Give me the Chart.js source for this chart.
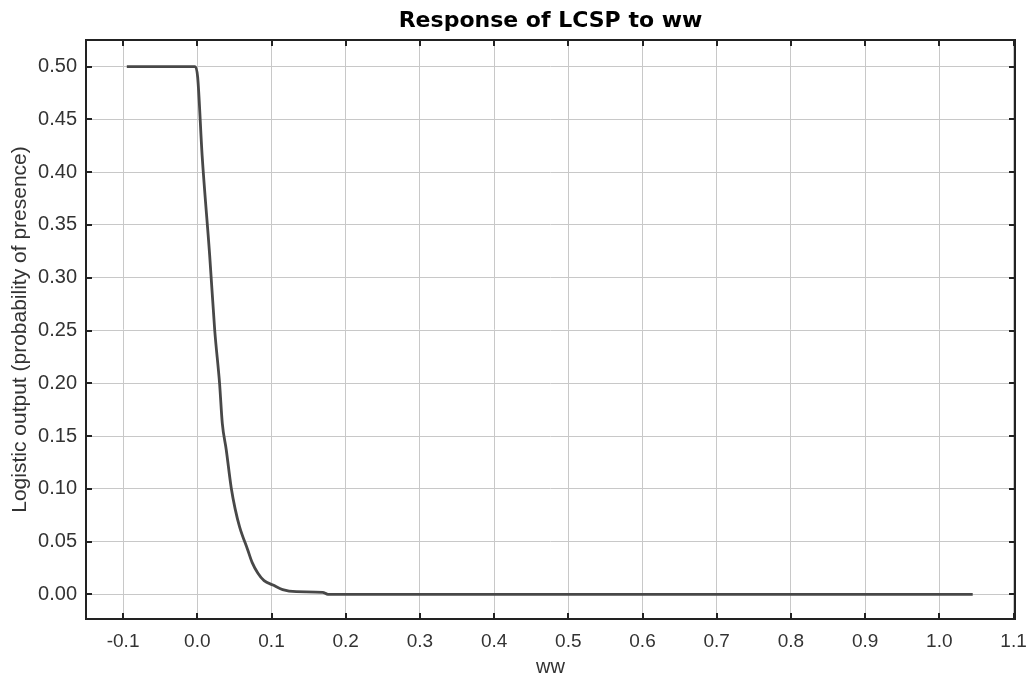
<!DOCTYPE html>
<html lang="en">
<head>
  <meta charset="UTF-8">
  <title>Response of LCSP to ww</title>
  <script src="https://cdn.jsdelivr.net/npm/chart.js"></script>
  <style>
    body { margin: 0; background: #fff; }
    #wrap { width: 1029px; height: 686px; }
  </style>
</head>
<body>
  <div id="wrap">
    <canvas id="respChart" width="1029" height="686"></canvas>
  </div>

  <script>
    // response curve
    const wwValues = [-0.095, -0.003, 0.0005, 0.0065, 0.0166, 0.0235, 0.030, 0.0337, 0.039, 0.0458, 0.051, 0.057, 0.068, 0.074, 0.0817, 0.09, 0.102, 0.115, 0.1335, 0.169, 0.176, 1.045];
    const outputValues = [0.5, 0.5, 0.49, 0.416, 0.322, 0.25, 0.20, 0.162, 0.137, 0.1005, 0.081, 0.064, 0.042, 0.030, 0.020, 0.013, 0.0088, 0.0045, 0.0025, 0.0019, 0.0, 0.0];

    const xTicks = [-0.1, 0.0, 0.1, 0.2, 0.3, 0.4, 0.5, 0.6, 0.7, 0.8, 0.9, 1.0, 1.1];
    const yTicks = [0.00, 0.05, 0.10, 0.15, 0.20, 0.25, 0.30, 0.35, 0.40, 0.45, 0.50];
    const chartTitle = "Response of LCSP to ww";

    const points = wwValues.map((x, i) => ({ x: x, y: outputValues[i] }));

    // box round the plot with inward tick marks on all four sides,
    // title centred over the plot area
    const framePlugin = {
      id: "frame",
      afterDatasetsDraw(chart) {
        const { ctx, chartArea: a, scales } = chart;
        ctx.save();
        ctx.strokeStyle = "#222";
        ctx.lineWidth = 2;
        ctx.strokeRect(a.left, a.top, a.right - a.left, a.bottom - a.top);
        ctx.beginPath();
        xTicks.forEach(v => {
          const px = Math.round(scales.x.getPixelForValue(v));
          ctx.moveTo(px, a.bottom); ctx.lineTo(px, a.bottom - 6);
          ctx.moveTo(px, a.top); ctx.lineTo(px, a.top + 6);
        });
        yTicks.forEach(v => {
          const py = Math.round(scales.y.getPixelForValue(v));
          ctx.moveTo(a.left, py); ctx.lineTo(a.left + 6, py);
          ctx.moveTo(a.right, py); ctx.lineTo(a.right - 6, py);
        });
        ctx.stroke();

        ctx.fillStyle = "#000";
        ctx.font = "bold 22px 'DejaVu Sans', sans-serif";
        ctx.textAlign = "center";
        ctx.textBaseline = "middle";
        ctx.fillText(chartTitle, (a.left + a.right) / 2, 21);
        ctx.restore();
      }
    };

    Chart.defaults.font.family = "'Liberation Sans', Arial, sans-serif";

    new Chart(document.getElementById("respChart"), {
      type: "line",
      data: {
        datasets: [{
          data: points,
          borderColor: "#484848",
          borderWidth: 2.8,
          pointRadius: 0,
          cubicInterpolationMode: "monotone",
          fill: false
        }]
      },
      options: {
        responsive: false,
        animation: false,
        layout: { padding: { left: 0, right: 14, top: 40, bottom: 0 } },
        plugins: {
          legend: { display: false },
          tooltip: { enabled: false },
          title: { display: false }
        },
        scales: {
          x: {
            type: "linear",
            min: -0.15,
            max: 1.102,
            afterBuildTicks: s => { s.ticks = xTicks.map(v => ({ value: v })); },
            afterFit: s => { s.height = 67; s.paddingLeft = 0; s.paddingRight = 0; },
            grid: { color: "#c8c8c8", lineWidth: 1, drawTicks: false },
            border: { display: false },
            ticks: {
              color: "#333",
              font: { size: 19 },
              padding: 11,
              maxRotation: 0,
              callback: v => v.toFixed(1)
            },
            title: {
              display: true,
              text: "ww",
              color: "#333",
              font: { size: 20 },
              padding: { top: 0, bottom: 7 }
            }
          },
          y: {
            type: "linear",
            min: -0.0234,
            max: 0.5253,
            afterBuildTicks: s => { s.ticks = yTicks.map(v => ({ value: v })); },
            afterFit: s => { s.width = 86; },
            grid: { color: "#c8c8c8", lineWidth: 1, drawTicks: false },
            border: { display: false },
            ticks: {
              color: "#333",
              font: { size: 20 },
              padding: 9,
              callback: v => v.toFixed(2)
            },
            title: {
              display: true,
              text: "Logistic output (probability of presence)",
              color: "#333",
              font: { size: 21 },
              padding: { top: 8, bottom: 0 }
            }
          }
        }
      },
      plugins: [framePlugin]
    });
  </script>
</body>
</html>
